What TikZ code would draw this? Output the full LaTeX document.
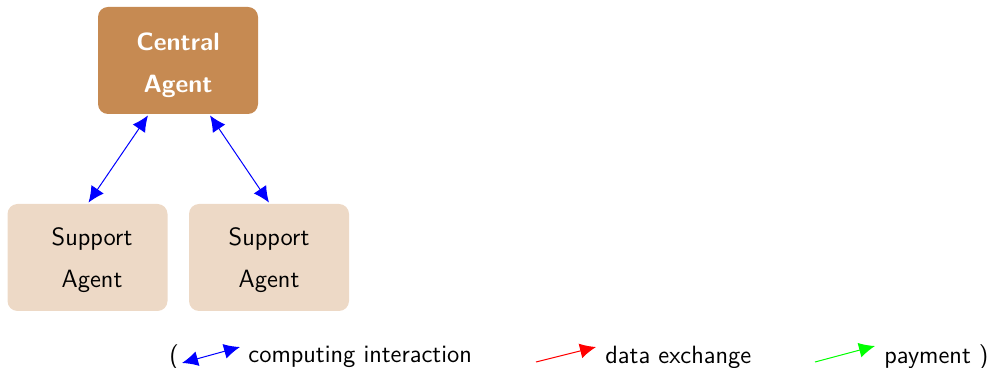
\documentclass[tikz,border=0pt]{standalone}
\usetikzlibrary{arrows.meta}
\definecolor{centralfill}{HTML}{C68A52}
\definecolor{supportfill}{HTML}{EDD9C6}
\begin{document}
\begin{tikzpicture}[x=0.5pt,y=-0.5pt,
  font=\sffamily\fontsize{12.5}{21}\selectfont,
  agentbox/.style={rounded corners=5pt, minimum width=80pt, minimum height=53.5pt, inner sep=0pt, align=center},
  centralbox/.style={agentbox, fill=centralfill, text=white, font=\sffamily\bfseries\fontsize{12.5}{21}\selectfont},
  supportbox/.style={agentbox, fill=supportfill, text=black},
  link/.style={line width=0.5pt, {Latex[length=8pt,width=7.5pt]}-{Latex[length=8pt,width=7.5pt]}},
  oneway/.style={line width=0.5pt, -{Latex[length=8pt,width=7.5pt]}},
  legend/.style={anchor=west, inner sep=0pt}
]
\useasboundingbox (0,0) rectangle (990,368);
\node[centralbox] (central) at (178,60.5) {\rule{0pt}{13.6pt}Central\\Agent};
\node[supportbox] (sup1) at (87.5,257.5) {\hspace{4.5pt}\rule{0pt}{12pt}Support\\\hspace{4.5pt}Agent};
\node[supportbox] (sup2) at (269,257.5) {\rule{0pt}{12pt}Support\\Agent};
\draw[link, blue] ([xshift=-15pt,yshift=-0.5pt]central.south) -- ([xshift=0.5pt,yshift=0.5pt]sup1.north);
\draw[link, blue] ([xshift=16pt,yshift=-0.5pt]central.south) -- ([yshift=0.5pt]sup2.north);
% legend
\node[legend] (lparen) at (169,357) {(};
\coordinate (b1) at (182,363);
\coordinate (b2) at (240,347);
\draw[link, blue] (b1) -- (b2);
\node[legend] (lcomp) at (248,357) {computing interaction};
\coordinate (r1) at (536,362);
\coordinate (r2) at (596,347);
\draw[oneway, red] (r1) -- (r2);
\node[legend] (ldata) at (605,357) {data exchange};
\coordinate (g1) at (815,362);
\coordinate (g2) at (875,346);
\draw[oneway, green] (g1) -- (g2);
\node[legend] (lpay) at (884,357) {payment )};
\end{tikzpicture}
\end{document}
